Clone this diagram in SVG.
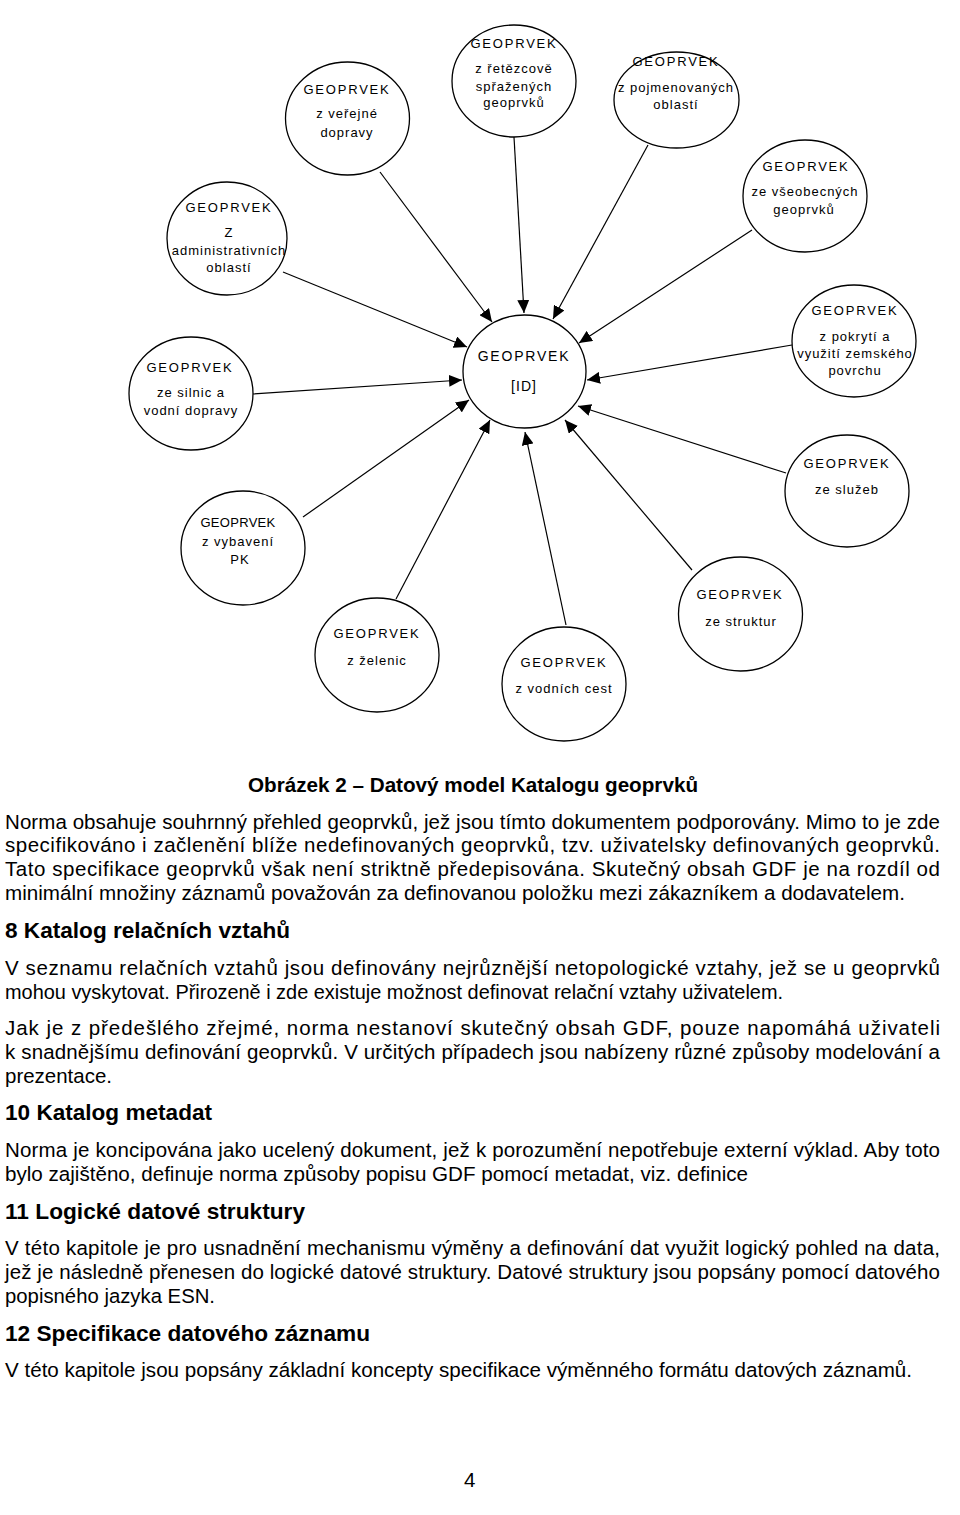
<svg xmlns="http://www.w3.org/2000/svg" width="960" height="1515" viewBox="0 0 960 1515">
<style>
.node ellipse{fill:#fff;stroke:#000;stroke-width:1.3}
.node text{font-family:"Liberation Sans",Arial,sans-serif;font-size:13px;fill:#000;text-anchor:middle;letter-spacing:1px}
.node text.h{letter-spacing:1.8px}
.conn line{stroke:#000;stroke-width:1.2;marker-end:url(#arr)}
.body{font-family:"Liberation Sans",Arial,sans-serif;font-size:20.5px;fill:#000}
.hd{font-family:"Liberation Sans",Arial,sans-serif;font-size:22.5px;font-weight:bold;fill:#000}
.cap{font-family:"Liberation Sans",Arial,sans-serif;font-size:20.7px;font-weight:bold;fill:#000}
</style>
<defs>
<marker id="arr" markerUnits="userSpaceOnUse" markerWidth="13" markerHeight="12" refX="13" refY="6" orient="auto">
<path d="M0,0 L13,6 L0,12 z" fill="#000"/>
</marker>
</defs>
<rect width="960" height="1515" fill="#fff"/>
<g id="connectors" class="conn">
<line x1="380" y1="172" x2="492" y2="322"/>
<line x1="514" y1="137" x2="524" y2="313"/>
<line x1="648" y1="145" x2="553" y2="319"/>
<line x1="752" y1="230" x2="579" y2="343"/>
<line x1="792" y1="345" x2="587" y2="380"/>
<line x1="786" y1="473" x2="578" y2="406"/>
<line x1="692" y1="570" x2="565" y2="420"/>
<line x1="566" y1="625" x2="525" y2="432"/>
<line x1="396" y1="599" x2="490" y2="420"/>
<line x1="303" y1="517" x2="469" y2="400"/>
<line x1="253" y1="394" x2="462" y2="380"/>
<line x1="283" y1="272" x2="467" y2="347"/>
</g>
<g id="center" class="node">
<ellipse cx="524.5" cy="371.5" rx="61.5" ry="56.5"/>
<text class="h" x="524" y="361" style="font-size:14px">GEOPRVEK</text>
<text x="524" y="391" style="font-size:14px">[ID]</text>
</g>
<g id="n-verejne" class="node">
<ellipse cx="347.5" cy="118.5" rx="62" ry="56.5"/>
<text class="h" x="347" y="94">GEOPRVEK</text>
<text x="347" y="118">z veřejné</text>
<text x="347" y="137">dopravy</text>
</g>
<g id="n-retezcove" class="node">
<ellipse cx="514" cy="81" rx="62" ry="56"/>
<text class="h" x="514" y="48">GEOPRVEK</text>
<text x="514" y="73">z řetězcově</text>
<text x="514" y="91">spřažených</text>
<text x="514" y="107">geoprvků</text>
</g>
<g id="n-pojmenovanych" class="node">
<ellipse cx="676.5" cy="100" rx="62.5" ry="48"/>
<text class="h" x="676" y="66">GEOPRVEK</text>
<text x="676" y="92">z pojmenovaných</text>
<text x="676" y="109">oblastí</text>
</g>
<g id="n-vseobecnych" class="node">
<ellipse cx="805" cy="196" rx="62" ry="56"/>
<text class="h" x="806" y="171">GEOPRVEK</text>
<text x="805" y="196">ze všeobecných</text>
<text x="804" y="214">geoprvků</text>
</g>
<g id="n-pokryti" class="node">
<ellipse cx="854" cy="341" rx="62" ry="56"/>
<text class="h" x="855" y="315">GEOPRVEK</text>
<text x="855" y="341">z pokrytí a</text>
<text x="855" y="358">využití zemského</text>
<text x="855" y="375">povrchu</text>
</g>
<g id="n-sluzeb" class="node">
<ellipse cx="847" cy="491" rx="62" ry="56"/>
<text class="h" x="847" y="468">GEOPRVEK</text>
<text x="847" y="494">ze služeb</text>
</g>
<g id="n-struktur" class="node">
<ellipse cx="740.5" cy="614" rx="62" ry="57"/>
<text class="h" x="740" y="599">GEOPRVEK</text>
<text x="741" y="626">ze struktur</text>
</g>
<g id="n-vodnich" class="node">
<ellipse cx="564" cy="684" rx="62" ry="57"/>
<text class="h" x="564" y="667">GEOPRVEK</text>
<text x="564" y="693">z vodních cest</text>
</g>
<g id="n-zelenic" class="node">
<ellipse cx="377" cy="655" rx="62" ry="57"/>
<text class="h" x="377" y="638">GEOPRVEK</text>
<text x="377" y="665">z želenic</text>
</g>
<g id="n-vybaveni" class="node">
<ellipse cx="243" cy="548" rx="62" ry="57"/>
<text class="h" x="238" y="527" style="letter-spacing:0.3px">GEOPRVEK</text>
<text x="238" y="546">z vybavení</text>
<text x="240" y="564">PK</text>
</g>
<g id="n-silnic" class="node">
<ellipse cx="191" cy="393.5" rx="62" ry="56.5"/>
<text class="h" x="190" y="372">GEOPRVEK</text>
<text x="191" y="397">ze silnic a</text>
<text x="191" y="415">vodní dopravy</text>
</g>
<g id="n-administrativnich" class="node">
<ellipse cx="227" cy="238.5" rx="60" ry="56.5"/>
<text class="h" x="229" y="212">GEOPRVEK</text>
<text x="229" y="237">Z</text>
<text x="229" y="255">administrativních</text>
<text x="229" y="272">oblastí</text>
</g>
<g id="text">
<text class="cap" x="248" y="792" textLength="450" lengthAdjust="spacingAndGlyphs">Obrázek 2 – Datový model Katalogu geoprvků</text>
<text class="body" x="5" y="829" textLength="935" lengthAdjust="spacing">Norma obsahuje souhrnný přehled geoprvků, jež jsou tímto dokumentem podporovány. Mimo to je zde</text>
<text class="body" x="5" y="852" textLength="935" lengthAdjust="spacing">specifikováno i začlenění blíže nedefinovaných geoprvků, tzv. uživatelsky definovaných geoprvků.</text>
<text class="body" x="5" y="876" textLength="935" lengthAdjust="spacing">Tato specifikace geoprvků však není striktně předepisována. Skutečný obsah GDF je na rozdíl od</text>
<text class="body" x="5" y="900" textLength="900" lengthAdjust="spacingAndGlyphs">minimální množiny záznamů považován za definovanou položku mezi zákazníkem a dodavatelem.</text>
<text class="hd" x="5" y="938" textLength="285" lengthAdjust="spacingAndGlyphs">8 Katalog relačních vztahů</text>
<text class="body" x="5" y="975" textLength="935" lengthAdjust="spacing">V seznamu relačních vztahů jsou definovány nejrůznější netopologické vztahy, jež se u geoprvků</text>
<text class="body" x="5" y="999" textLength="778" lengthAdjust="spacingAndGlyphs">mohou vyskytovat. Přirozeně i zde existuje možnost definovat relační vztahy uživatelem.</text>
<text class="body" x="5" y="1035" textLength="935" lengthAdjust="spacing">Jak je z předešlého zřejmé, norma nestanoví skutečný obsah GDF, pouze napomáhá uživateli</text>
<text class="body" x="5" y="1059" textLength="935" lengthAdjust="spacing">k snadnějšímu definování geoprvků. V určitých případech jsou nabízeny různé způsoby modelování a</text>
<text class="body" x="5" y="1083" textLength="107" lengthAdjust="spacingAndGlyphs">prezentace.</text>
<text class="hd" x="5" y="1120" textLength="207" lengthAdjust="spacingAndGlyphs">10 Katalog metadat</text>
<text class="body" x="5" y="1157" textLength="935" lengthAdjust="spacing">Norma je koncipována jako ucelený dokument, jež k porozumění nepotřebuje externí výklad. Aby toto</text>
<text class="body" x="5" y="1181" textLength="743" lengthAdjust="spacingAndGlyphs">bylo zajištěno, definuje norma způsoby popisu GDF pomocí metadat, viz. definice</text>
<text class="hd" x="5" y="1219" textLength="300" lengthAdjust="spacingAndGlyphs">11 Logické datové struktury</text>
<text class="body" x="5" y="1255" textLength="935" lengthAdjust="spacing">V této kapitole je pro usnadnění mechanismu výměny a definování dat využit logický pohled na data,</text>
<text class="body" x="5" y="1279" textLength="935" lengthAdjust="spacing">jež je následně přenesen do logické datové struktury. Datové struktury jsou popsány pomocí datového</text>
<text class="body" x="5" y="1303" textLength="210" lengthAdjust="spacingAndGlyphs">popisného jazyka ESN.</text>
<text class="hd" x="5" y="1341" textLength="365" lengthAdjust="spacingAndGlyphs">12 Specifikace datového záznamu</text>
<text class="body" x="5" y="1377" textLength="907" lengthAdjust="spacingAndGlyphs">V této kapitole jsou popsány základní koncepty specifikace výměnného formátu datových záznamů.</text>
<text class="body" x="464" y="1487">4</text>
</g>
</svg>
